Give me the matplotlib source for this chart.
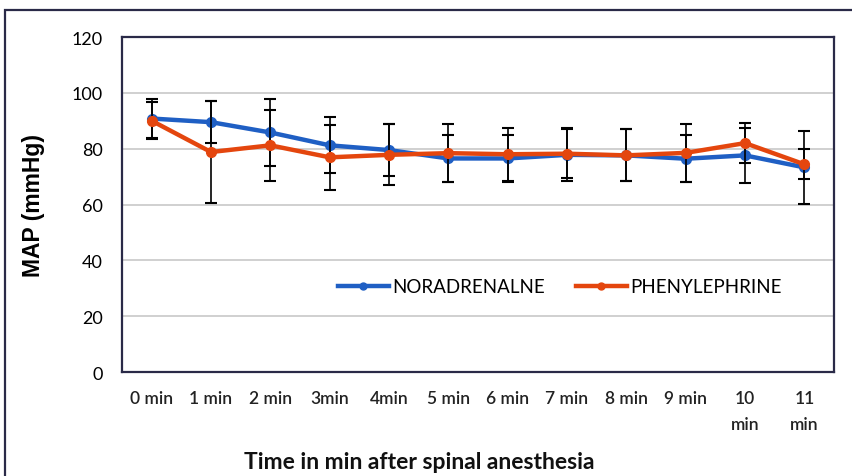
import matplotlib
matplotlib.use("Agg")
import matplotlib.pyplot as plt
import matplotlib.patches as patches
from matplotlib.lines import Line2D

plt.rcParams['font.family'] = ['Lato', 'DejaVu Sans']

# data
time_labels = ['0 min', '1 min', '2 min', '3min', '4min', '5 min', '6 min',
               '7 min', '8 min', '9 min', '10\nmin', '11\nmin']
nor_mean = [90.8, 89.5, 85.8, 81.2, 79.5, 76.5, 76.5, 77.8, 77.6, 76.4, 77.6, 73.3]
nor_sd = [7.1, 7.5, 12.1, 10.0, 9.2, 8.5, 8.5, 9.5, 9.3, 8.4, 9.8, 13.2]
phe_mean = [90.0, 78.8, 81.2, 76.9, 77.8, 78.4, 78.0, 78.2, 77.6, 78.5, 82.0, 74.4]
phe_sd = [6.6, 18.2, 12.6, 11.6, 10.9, 10.3, 9.5, 8.7, 9.3, 10.3, 7.3, 5.4]

blue = '#1f5fc4'
orange = '#e4460e'
frame = '#2a2a48'

fig = plt.figure(figsize=(8.52, 4.77), dpi=100)
ax = fig.add_axes([0.1432, 0.218, 0.8357, 0.7023])

x = list(range(len(time_labels)))

ax.errorbar(x, nor_mean, yerr=nor_sd, color=blue, lw=3.2, marker='o', ms=7,
            ecolor='black', elinewidth=1.2, capsize=4, capthick=1.5, zorder=3)
ax.errorbar(x, phe_mean, yerr=phe_sd, color=orange, lw=3.2, marker='o', ms=7,
            ecolor='black', elinewidth=1.2, capsize=4, capthick=1.5, zorder=4)

ax.set_xlim(-0.5, 11.5)
ax.set_ylim(0, 120)
ax.set_yticks(range(0, 121, 20))
ax.set_xticks(x)
ax.set_xticklabels(time_labels, fontsize=12.5, fontweight='semibold',
                   linespacing=1.8, color='#222222')
ax.tick_params(axis='both', length=0)
ax.tick_params(axis='y', labelsize=13, pad=14)
ax.tick_params(axis='x', pad=13)
ax.yaxis.grid(True, color='#c8c8c8', lw=1.2)
ax.set_axisbelow(True)
for s in ax.spines.values():
    s.set_color(frame)
    s.set_linewidth(1.6)

ax.set_ylabel('MAP (mmHg)', fontsize=16.5, fontweight='bold',
              family=['Liberation Sans', 'DejaVu Sans'])
ax.yaxis.set_label_coords(-0.108, 0.5)
ax.set_xlabel('Time in min after spinal anesthesia', fontsize=16.5,
              fontweight='bold', color='#111111')
ax.xaxis.set_label_coords(0.418, -0.236)

handles = [Line2D([], [], color=blue, lw=3.2, marker='o', ms=5),
           Line2D([], [], color=orange, lw=3.2, marker='o', ms=5)]
ax.legend(handles, ['NORADRENALNE', 'PHENYLEPHRINE'], loc='center',
          bbox_to_anchor=(0.615, 0.254), ncol=2, frameon=False, fontsize=13.5,
          handlelength=2.7, handletextpad=0.2, columnspacing=1.65)

# outer chart frame (cropped on right and bottom)
fig.patches.append(patches.Rectangle((5 / 852, -0.1), 1.2, 1.1 - 11 / 477,
                                     transform=fig.transFigure, fill=False,
                                     edgecolor=frame, lw=1.6))

fig.savefig('out.png', dpi=100)
